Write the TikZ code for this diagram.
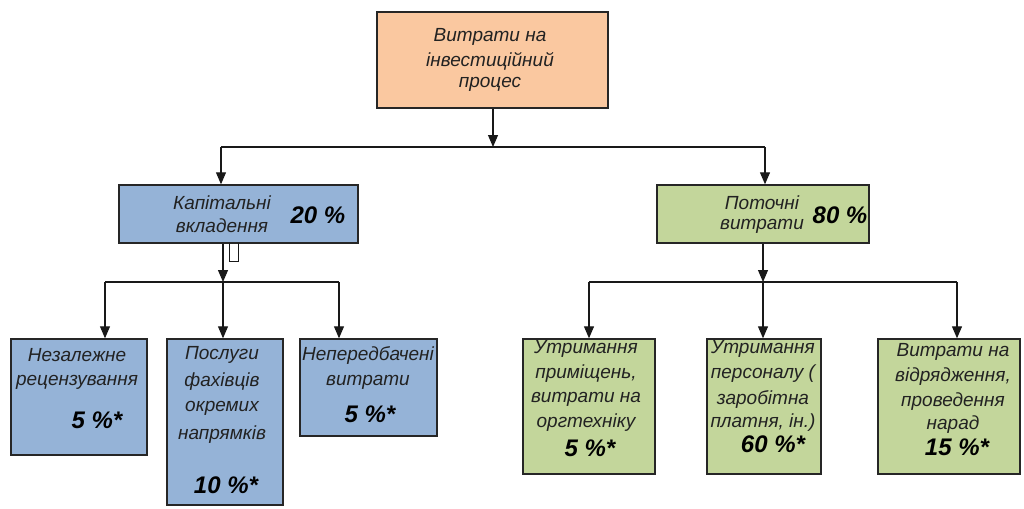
\documentclass[tikz,border=0pt]{standalone}
\usepackage{fontspec}
\setmainfont{Liberation Sans}
\usetikzlibrary{arrows.meta}
\definecolor{peach}{HTML}{FAC8A0}
\definecolor{bluebox}{HTML}{95B3D7}
\definecolor{greenbox}{HTML}{C3D69B}
\definecolor{txt}{HTML}{222222}
\begin{document}
\begin{tikzpicture}[x=1pt,y=-1pt,
  bx/.style={draw=black!85, line width=1.4pt, inner sep=0pt, rectangle},
  lbl/.style={inner sep=0pt, text=txt, font=\fontsize{19}{23}\selectfont\itshape},
  pct/.style={inner sep=0pt, text=black, font=\fontsize{24}{28}\selectfont\bfseries\itshape},
  ln/.style={draw=black!90, line width=1.1pt},
  arr/.style={ln, -{Triangle[length=12pt,width=10pt]}}]
\useasboundingbox (0,0) rectangle (1024,508);
% boxes
\node[bx, fill=peach, minimum width=231pt, minimum height=96pt] (top) at (492.5,60) {};
\node[bx, fill=bluebox, minimum width=239pt, minimum height=58pt] (kap) at (238.5,214) {};
\node[bx, fill=greenbox, minimum width=212pt, minimum height=58pt] (pot) at (763,214) {};
\node[bx, fill=bluebox, minimum width=136pt, minimum height=116pt] (b1) at (79,397) {};
\node[bx, fill=bluebox, minimum width=116pt, minimum height=166pt] (b2) at (225,422) {};
\node[bx, fill=bluebox, minimum width=137pt, minimum height=97pt] (b3) at (368.5,387.5) {};
\node[bx, fill=greenbox, minimum width=132pt, minimum height=135pt] (b4) at (589,406.5) {};
\node[bx, fill=greenbox, minimum width=114pt, minimum height=135pt] (b5) at (764,406.5) {};
\node[bx, fill=greenbox, minimum width=142pt, minimum height=135pt] (b6) at (949,406.5) {};
% texts
\node[lbl] (t1) at (490,37) {Витрати на};
\node[lbl] (t2) at (490,61) {інвестиційний};
\node[lbl] (t3) at (490,84) {процес};
\node[lbl] (k1) at (222,203) {Капітальні};
\node[lbl] (k2) at (222,226) {вкладення};
\node[pct] (kp) at (318,215) {20 \%};
\node[lbl] (p1) at (762,203) {Поточні};
\node[lbl] (p2) at (762,226) {витрати};
\node[pct] (pp) at (840,215) {80 \%};
\node[lbl] (a1) at (77,355) {Незалежне};
\node[lbl] (a2) at (77,382) {рецензування};
\node[pct] (ap) at (97,420) {5 \%*};
\node[lbl] (c1) at (222,355) {Послуги};
\node[lbl] (c2) at (222,382) {фахівців};
\node[lbl] (c3) at (222,408) {окремих};
\node[lbl] (c4) at (222,435) {напрямків};
\node[pct] (cp) at (226,485) {10 \%*};
\node[lbl] (d1) at (368,355) {Непередбачені};
\node[lbl] (d2) at (368,382) {витрати};
\node[pct] (dp) at (370,414) {5 \%*};
\node[lbl] (e1) at (586,349) {Утримання};
\node[lbl] (e2) at (586,374) {приміщень,};
\node[lbl] (e3) at (586,399) {витрати на};
\node[lbl] (e4) at (586,423) {оргтехніку};
\node[pct] (ep) at (590,448) {5 \%*};
\node[lbl] (f1) at (763,349) {Утримання};
\node[lbl] (f2) at (763,374) {персоналу (};
\node[lbl] (f3) at (763,399) {заробітна};
\node[lbl] (f4) at (763,423) {платня, ін.)};
\node[pct] (fp) at (773,444) {60 \%*};
\node[lbl] (g1) at (953,352) {Витрати на};
\node[lbl] (g2) at (953,377) {відрядження,};
\node[lbl] (g3) at (953,402) {проведення};
\node[lbl] (g4) at (953,425) {нарад};
\node[pct] (gp) at (957,447) {15 \%*};
% junctions
\coordinate (jt) at (493,147);
\coordinate (jl) at (221,147);
\coordinate (jr) at (765,147);
\coordinate (kl) at (105,282);
\coordinate (km) at (223,282);
\coordinate (kr) at (339,282);
\coordinate (pl) at (589,282);
\coordinate (pm) at (763,282);
\coordinate (pr) at (957,282);
\coordinate (s1) at (229,243);
\coordinate (s2) at (229,261);
\coordinate (s3) at (238,261);
\coordinate (s4) at (238,243);
% connectors
\draw[arr] (top.south -| jt) -- (jt);
\draw[ln] (jl) -- (jr);
\draw[arr] (jl) -- (jl |- kap.north);
\draw[arr] (jr) -- (jr |- pot.north);
\draw[arr] (km |- kap.south) -- (km);
\draw[ln, line width=0.6pt] (s1) -- (s2) -- (s3) -- (s4);
\draw[ln] (kl) -- (kr);
\draw[arr] (kl) -- (kl |- b1.north);
\draw[arr] (km) -- (km |- b2.north);
\draw[arr] (kr) -- (kr |- b3.north);
\draw[arr] (pm |- pot.south) -- (pm);
\draw[ln] (pl) -- (pr);
\draw[arr] (pl) -- (pl |- b4.north);
\draw[arr] (pm) -- (pm |- b5.north);
\draw[arr] (pr) -- (pr |- b6.north);
\end{tikzpicture}
\end{document}
